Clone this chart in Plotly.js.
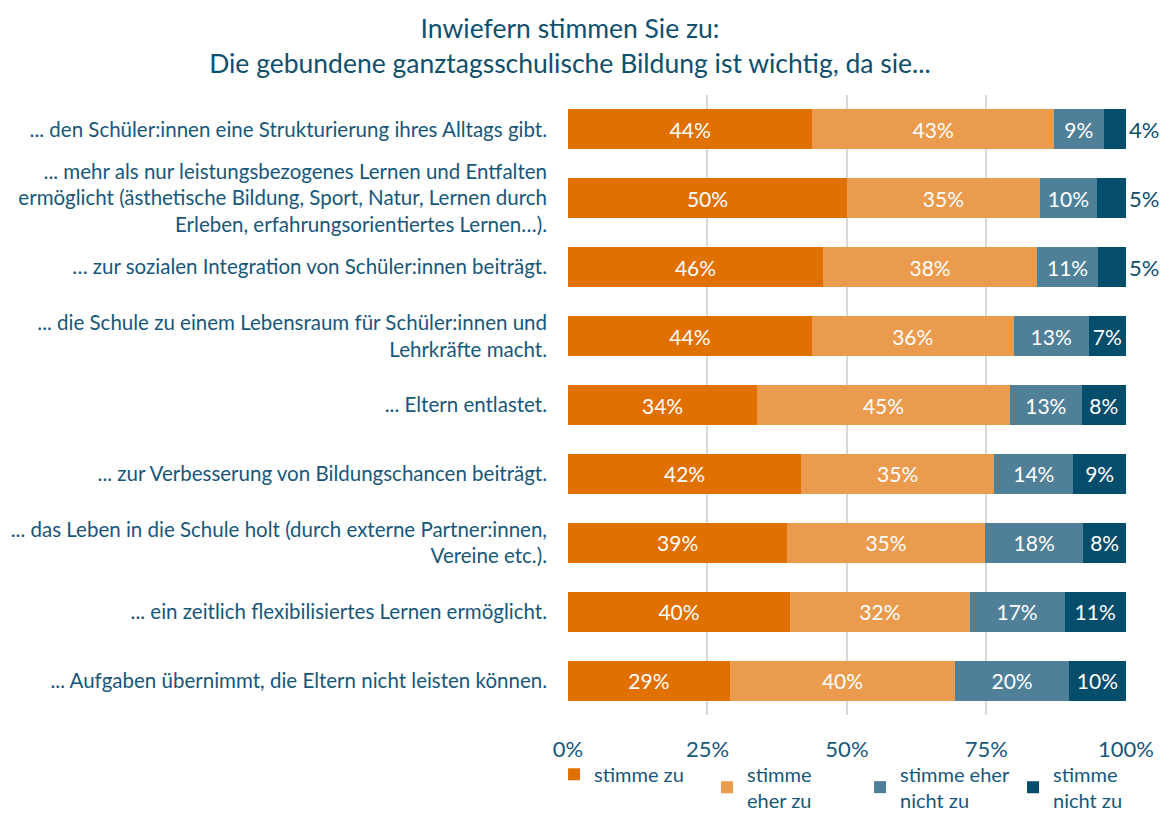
<!DOCTYPE html>
<html>
<head>
<meta charset="utf-8">
<script src="https://cdn.plot.ly/plotly-3.0.1.min.js"></script>
<style>html,body{margin:0;padding:0;background:#fff;}#chart{width:1169px;height:815px;}</style>
</head>
<body>
<div id="chart"></div>
<script>
const categories = [
  "... den Schüler:innen eine Strukturierung ihres Alltags gibt.",
  "... mehr als nur leistungsbezogenes Lernen und Entfalten<br>ermöglicht (ästhetische Bildung, Sport, Natur, Lernen durch<br>Erleben, erfahrungsorientiertes Lernen…).",
  "… zur sozialen Integration von Schüler:innen beiträgt.",
  "... die Schule zu einem Lebensraum für Schüler:innen und<br>Lehrkräfte macht.",
  "... Eltern entlastet.",
  "... zur Verbesserung von Bildungschancen beiträgt.",
  "... das Leben in die Schule holt (durch externe Partner:innen,<br>Vereine etc.).",
  "... ein zeitlich flexibilisiertes Lernen ermöglicht.",
  "... Aufgaben übernimmt, die Eltern nicht leisten können."
];
const seriesNames = ["stimme zu", "stimme<br>eher zu", "stimme eher<br>nicht zu", "stimme<br>nicht zu"];
const stimmeZu        = [43.8, 50.0, 45.7, 43.7, 33.9, 41.8, 39.3, 39.8, 29.0];
const stimmeEherZu    = [43.3, 34.6, 38.4, 36.2, 45.3, 34.6, 35.4, 32.2, 40.4];
const stimmeEherNicht = [8.9, 10.2, 10.9, 13.4, 12.9, 14.2, 17.7, 17.0, 20.4];
const stimmeNicht     = [4.0, 5.2, 5.0, 6.7, 7.9, 9.4, 7.6, 11.0, 10.2];
const tickVals = [0, 25, 50, 75, 100];
const tickText = ["0%", "25%", "50%", "75%", "100%"];

const colors = ["#E07000", "#EA9B4E", "#4F8098", "#044D6B"];
const FONT = "Lato, 'Open Sans', sans-serif";
const textColor = "#17577A";

const seriesValues = [stimmeZu, stimmeEherZu, stimmeEherNicht, stimmeNicht];
const traces = seriesValues.map((vals, i) => {
  const positions = vals.map(v => (i === 3 && v < 5.5) ? "outside" : "inside");
  return {
    type: "bar",
    orientation: "h",
    name: seriesNames[i],
    y: categories,
    x: vals,
    marker: {color: colors[i], line: {width: 0}},
    texttemplate: "%{x:.0f}%",
    textposition: positions,
    insidetextanchor: "middle",
    constraintext: "none",
    insidetextfont: {family: FONT, size: 21, color: "#ffffff"},
    outsidetextfont: {family: FONT, size: 22, color: "#0E4D6B"},
    cliponaxis: false,
    hoverinfo: "name+x"
  };
});

const layout = {
  width: 1169,
  height: 815,
  paper_bgcolor: "#ffffff",
  plot_bgcolor: "#ffffff",
  font: {family: FONT, color: textColor},
  title: {
    text: "Inwiefern stimmen Sie zu:<br>Die gebundene ganztagsschulische Bildung ist wichtig, da sie...",
    font: {family: FONT, size: 26.5, color: "#0F4F6C"},
    x: 0.4876, xanchor: "center",
    yref: "container",
    y: 0.953, yanchor: "middle"
  },
  barmode: "stack",
  bargap: 0.42,
  margin: {l: 568, r: 43, t: 95, b: 100, autoexpand: false},
  xaxis: {
    range: [0, 100.02],
    tickvals: tickVals,
    ticktext: tickText,
    showgrid: true,
    gridcolor: "#D9D9D9",
    gridwidth: 2,
    zeroline: false,
    showline: false,
    ticks: "",
    ticklabelstandoff: 19,
    tickfont: {family: FONT, size: 22, color: "#17577A"},
    fixedrange: true
  },
  yaxis: {
    type: "category",
    categoryorder: "array",
    categoryarray: categories,
    autorange: "reversed",
    showgrid: false,
    zeroline: false,
    showline: false,
    ticks: "",
    ticklabelstandoff: 20,
    tickfont: {family: FONT, size: 20.5, color: textColor},
    fixedrange: true
  },
  showlegend: true,
  legend: {
    orientation: "h",
    x: -0.025, xanchor: "left",
    yref: "paper",
    y: -0.064, yanchor: "top",
    bgcolor: "rgba(0,0,0,0)",
    font: {family: FONT, size: 20, color: textColor},
    traceorder: "normal",
    itemwidth: 30,
    entrywidth: 108,
    entrywidthmode: "pixels",
    tracegroupgap: 0
  }
};

Plotly.newPlot("chart", traces, layout, {displayModeBar: false, staticPlot: true});
</script>
</body>
</html>
